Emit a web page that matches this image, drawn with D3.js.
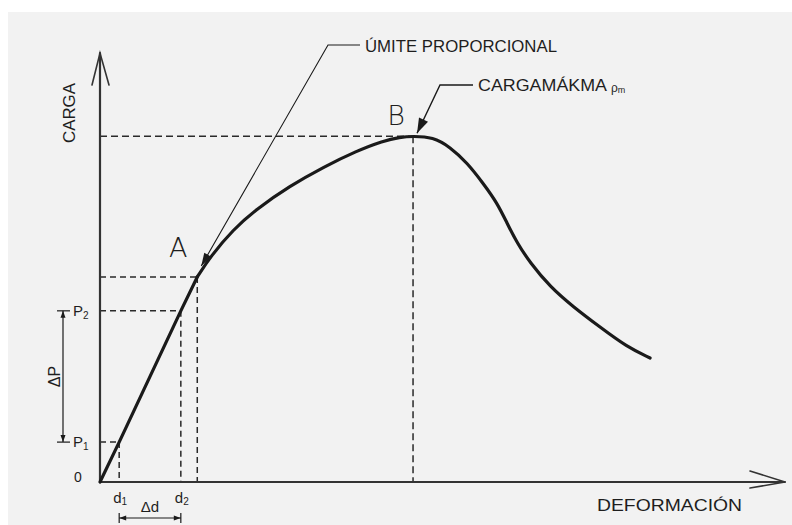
<!DOCTYPE html>
<html>
<head>
<meta charset="utf-8">
<script src="https://cdn.jsdelivr.net/npm/d3@7"></script>
<style>
  html, body { margin: 0; padding: 0; background: #fff; }
  svg { display: block; }
  text { font-family: "Liberation Sans", "DejaVu Sans", sans-serif; fill: #1e1e1e; }
</style>
</head>
<body>
<svg id="chart" width="792" height="525"></svg>
<script>
// Load–deformation curve, arbitrary units (0–100 on both axes)
const elasticDeformation = [0, 2.8, 11.8, 14.2];
const elasticLoad        = [0, 9.3, 39.9, 47.8];
const plasticDeformation = [14.2, 16.1, 19.4, 22.9, 27.7, 32.6, 37.5, 41.3, 43.8, 45.7, 48.6, 51.1, 53.6, 55.9, 58.0, 59.4, 60.9, 62.8, 65.7, 69.1, 73.0, 76.9, 80.3];
const plasticLoad        = [47.8, 52.5, 58.8, 63.7, 69.0, 73.4, 77.2, 79.5, 80.4, 80.6, 80.4, 78.1, 74.4, 69.7, 65.0, 60.4, 55.7, 51.1, 45.5, 40.8, 36.1, 31.5, 28.9];

// Readings taken on the elastic segment
const readingLoads        = [9.3, 39.9];   // P1, P2
const readingDeformations = [2.8, 11.8];   // d1, d2
const loadLabels          = ["1", "2"];
const deformationLabels   = ["1", "2"];

// Characteristic points
const pointA = [14.2, 47.8];   // proportional limit
const pointB = [45.7, 80.6];   // maximum load

const axisTitles = ["CARGA", "DEFORMACIÓN"];
const annotationTexts = ["ÚMITE PROPORCIONAL", "CARGAMÁKMA"];

const svg = d3.select("#chart");

// paper
svg.append("rect").attr("x", 8).attr("y", 12).attr("width", 784).attr("height", 513).attr("fill", "#f2f2f2");

const x = d3.scaleLinear().domain([0, 100]).range([100, 785]);
const y = d3.scaleLinear().domain([0, 100]).range([482, 53]);

const ink = "#1a1a1a";

// ---- dashed guide lines ----
const guides = svg.append("g").attr("stroke", "#2a2a2a").attr("stroke-width", 1.5).attr("fill", "none");
function guide(dx, dy, dash) {
  guides.append("line").attr("x1", x(0)).attr("y1", y(dy)).attr("x2", x(dx)).attr("y2", y(dy)).attr("stroke-dasharray", dash);
  guides.append("line").attr("x1", x(dx)).attr("y1", y(dy)).attr("x2", x(dx)).attr("y2", y(0)).attr("stroke-dasharray", dash);
}
readingDeformations.forEach((d, i) => guide(d, readingLoads[i], "6,4"));
guide(pointA[0], pointA[1], "6,4");
guide(pointB[0], pointB[1], "7,4");

// ---- axes with open arrowheads ----
const axes = svg.append("g").attr("stroke", "#333").attr("stroke-width", 2.2).attr("fill", "none").attr("stroke-linecap", "round");
axes.append("line").attr("x1", x(0)).attr("y1", y(0)).attr("x2", x(0)).attr("y2", y(100));
axes.append("path").attr("d", `M${x(0) - 8},${y(100) + 32} L${x(0)},${y(100)} L${x(0) + 9},${y(100) + 32}`).attr("stroke-width", 1.6);
axes.append("line").attr("x1", x(0)).attr("y1", y(0)).attr("x2", x(100)).attr("y2", y(0));
axes.append("path").attr("d", `M${x(100) - 35},${y(0) - 11} L${x(100)},${y(0)} L${x(100) - 35},${y(0) + 6}`).attr("stroke-width", 1.6);

// ---- the curve ----
svg.append("path")
  .datum(d3.zip(elasticDeformation, elasticLoad))
  .attr("d", d3.line().x(d => x(d[0])).y(d => y(d[1])).curve(d3.curveLinear))
  .attr("fill", "none").attr("stroke", ink).attr("stroke-width", 3.2).attr("stroke-linecap", "round");
svg.append("path")
  .datum(d3.zip(plasticDeformation, plasticLoad))
  .attr("d", d3.line().x(d => x(d[0])).y(d => y(d[1])).curve(d3.curveBasis))
  .attr("fill", "none").attr("stroke", ink).attr("stroke-width", 3.2).attr("stroke-linecap", "round");

// filled arrowhead helper: tip at (tx,ty), coming from (fx,fy)
function arrowHead(g, fx, fy, tx, ty, len, half) {
  const a = Math.atan2(ty - fy, tx - fx);
  const bx = tx - len * Math.cos(a), by = ty - len * Math.sin(a);
  const px = -Math.sin(a) * half, py = Math.cos(a) * half;
  g.append("path").attr("d", `M${tx},${ty} L${bx + px},${by + py} L${bx - px},${by - py} Z`).attr("fill", ink).attr("stroke", "none");
}

// ---- proportional limit leader ----
const ann = svg.append("g");
const aTip = [x(pointA[0]) + 4, y(pointA[1]) - 11];
const aElbow = [328, 45];
ann.append("path")
  .attr("d", `M${aTip[0]},${aTip[1]} L${aElbow[0]},${aElbow[1]} L${aElbow[0] + 32},${aElbow[1]}`)
  .attr("fill", "none").attr("stroke", ink).attr("stroke-width", 1.1);
arrowHead(ann, aElbow[0], aElbow[1], aTip[0], aTip[1], 13, 4);
ann.append("text").attr("x", 365).attr("y", 52).attr("font-size", 17)
  .attr("textLength", 192).attr("lengthAdjust", "spacingAndGlyphs").text(annotationTexts[0]);

// ---- maximum load leader ----
const bTip = [x(pointB[0]) + 4, y(pointB[1]) - 3];
const bElbow = [440, 85];
ann.append("path")
  .attr("d", `M${bTip[0]},${bTip[1]} L${bElbow[0]},${bElbow[1]} L${bElbow[0] + 33},${bElbow[1]}`)
  .attr("fill", "none").attr("stroke", ink).attr("stroke-width", 1.4);
arrowHead(ann, bElbow[0], bElbow[1], bTip[0], bTip[1], 15, 5);
ann.append("text").attr("x", 478).attr("y", 91).attr("font-size", 16)
  .attr("textLength", 129).attr("lengthAdjust", "spacingAndGlyphs").text(annotationTexts[1]);
const pm = ann.append("text").attr("x", 611).attr("y", 92).attr("font-size", 12);
pm.append("tspan").text("ρ");
pm.append("tspan").attr("font-size", 9).attr("dy", 1).text("m");

// ---- point letters ----
const letterFont = '"DejaVu Sans", "Liberation Sans", sans-serif';
svg.append("text").attr("x", x(pointA[0]) - 19).attr("y", y(pointA[1]) - 20)
  .attr("text-anchor", "middle").attr("font-size", 27).attr("font-weight", 200)
  .style("font-family", letterFont).text("A");
svg.append("text").attr("x", x(pointB[0]) - 17).attr("y", y(pointB[1]) - 11)
  .attr("text-anchor", "middle").attr("font-size", 27).attr("font-weight", 200)
  .style("font-family", letterFont).text("B");

// ---- axis titles ----
svg.append("text").attr("transform", `translate(75,113) rotate(-90)`)
  .attr("text-anchor", "middle").attr("font-size", 17).attr("textLength", 60).attr("lengthAdjust", "spacingAndGlyphs").text(axisTitles[0]);
svg.append("text").attr("x", 597).attr("y", 511).attr("font-size", 17)
  .attr("textLength", 145).attr("lengthAdjust", "spacingAndGlyphs").text(axisTitles[1]);

// ---- origin and readings ----
svg.append("text").attr("x", 78).attr("y", y(0)).attr("text-anchor", "middle").attr("font-size", 14).text("0");

readingLoads.forEach((p, i) => {
  const t = svg.append("text").attr("x", 73).attr("y", y(p) + 5).attr("font-size", 15);
  t.append("tspan").text("P");
  t.append("tspan").attr("font-size", 10).attr("dy", 3).text(loadLabels[i]);
});
readingDeformations.forEach((d, i) => {
  const t = svg.append("text").attr("x", x(d) - 6).attr("y", 503).attr("font-size", 15);
  t.append("tspan").text("d");
  t.append("tspan").attr("font-size", 10).attr("dy", 2).text(deformationLabels[i]);
});

// ΔP dimension
const dimP = svg.append("g").attr("stroke", ink).attr("stroke-width", 1.2);
const dpx = 63;
dimP.append("line").attr("x1", dpx).attr("y1", y(readingLoads[1])).attr("x2", dpx).attr("y2", y(readingLoads[0]));
readingLoads.forEach(p => dimP.append("line").attr("x1", dpx - 6).attr("x2", dpx + 7).attr("y1", y(p)).attr("y2", y(p)));
arrowHead(dimP, dpx, y(readingLoads[1]) + 20, dpx, y(readingLoads[1]), 7, 2.5);
arrowHead(dimP, dpx, y(readingLoads[0]) - 20, dpx, y(readingLoads[0]), 7, 2.5);
svg.append("text").attr("transform", `translate(60,${(y(readingLoads[0]) + y(readingLoads[1])) / 2}) rotate(-90)`)
  .attr("text-anchor", "middle").attr("font-size", 16).text("ΔP");

// Δd dimension
const dimD = svg.append("g").attr("stroke", ink).attr("stroke-width", 1.2);
const ddy = 518;
dimD.append("line").attr("x1", x(readingDeformations[0])).attr("x2", x(readingDeformations[1])).attr("y1", ddy).attr("y2", ddy);
readingDeformations.forEach(d => dimD.append("line").attr("x1", x(d)).attr("x2", x(d)).attr("y1", ddy - 5).attr("y2", ddy + 5));
arrowHead(dimD, x(readingDeformations[0]) + 20, ddy, x(readingDeformations[0]), ddy, 7, 2.5);
arrowHead(dimD, x(readingDeformations[1]) - 20, ddy, x(readingDeformations[1]), ddy, 7, 2.5);
svg.append("text").attr("x", (x(readingDeformations[0]) + x(readingDeformations[1])) / 2).attr("y", 512)
  .attr("text-anchor", "middle").attr("font-size", 15).text("Δd");
</script>
</body>
</html>
